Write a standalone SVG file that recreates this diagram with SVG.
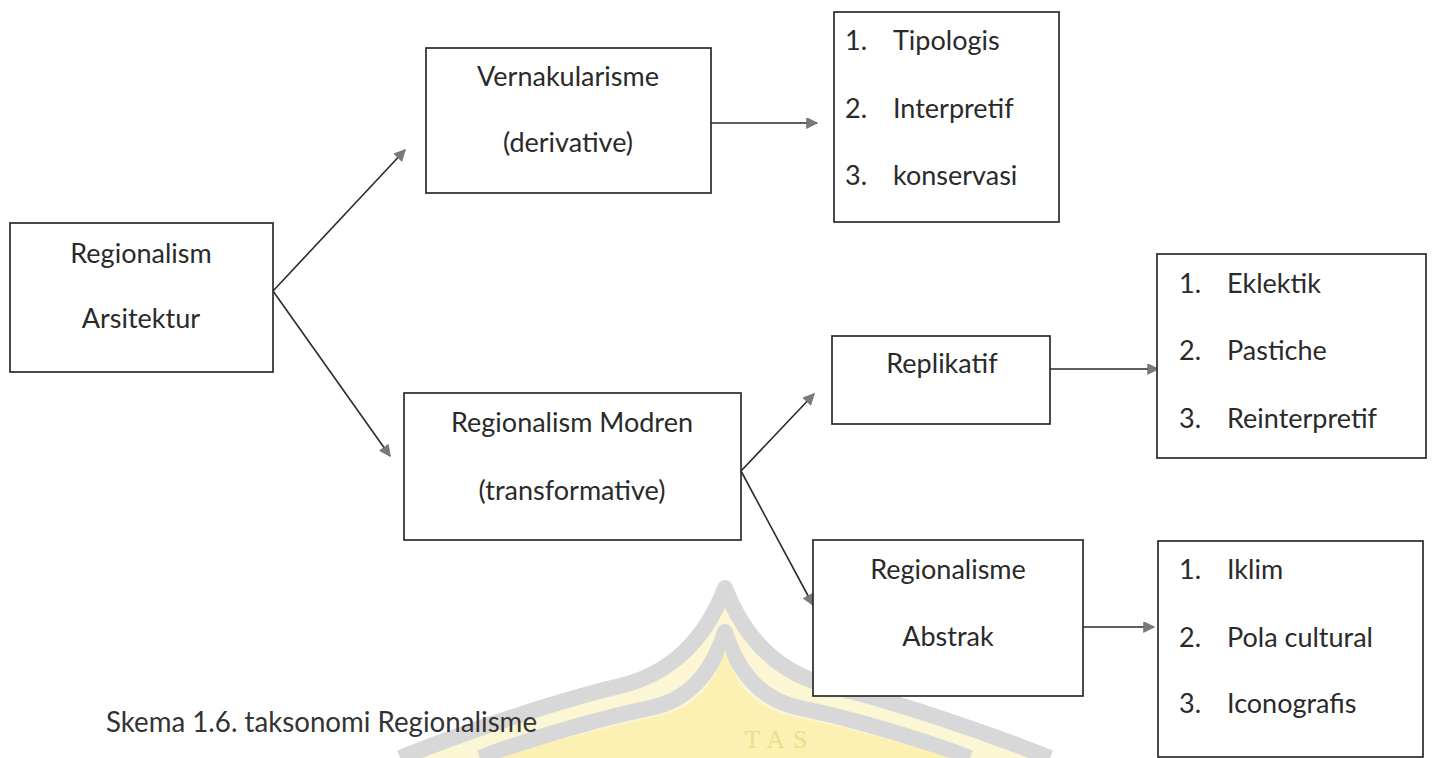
<svg xmlns="http://www.w3.org/2000/svg" width="1433" height="758" viewBox="0 0 1433 758">
<style>
.box{fill:#fff;stroke:#2b2b2b;stroke-width:1.7}
.t{font-family:Lato,"Liberation Sans",sans-serif;font-size:27px;fill:#2a2a2a}
.c{text-anchor:middle}
.cap{font-family:Lato,"Liberation Sans",sans-serif;font-size:28px;fill:#333}
.edge{stroke:#2b2b2b;stroke-width:1.6;fill:none;marker-end:url(#ah)}
.wband{fill:none;stroke:#d8d8d8;stroke-width:16;stroke-linejoin:round}
</style>
<defs>
<marker id="ah" viewBox="0 0 10 10" refX="9.5" refY="5" markerWidth="14" markerHeight="11" markerUnits="userSpaceOnUse" orient="auto">
<path d="M0,0 L10,5 L0,10 z" fill="#7a7a7a" stroke="#666" stroke-width="0.5"/>
</marker>
</defs>
<rect width="1433" height="758" fill="#fff"/>
<g id="watermark">
<path d="M400,758 C470,730 560,700 620,686 C670,674 705,640 725,588 C745,640 780,674 830,686 C890,700 980,730 1050,758 Z" fill="#fcf6d4"/>
<path class="wband" d="M400,758 C470,730 560,700 620,686 C670,674 705,640 725,588 C745,640 780,674 830,686 C890,700 980,730 1050,758"/>
<path class="wband" d="M480,758 C540,735 610,716 650,708 C690,700 712,672 725,632 C738,672 760,700 800,708 C840,716 910,735 970,758"/>
<path d="M500,758 C555,740 620,724 655,717 C695,709 715,684 725,650 C735,684 755,709 795,717 C830,724 895,740 950,758 Z" fill="#fcf0b2"/>
<text x="780" y="748" font-family="Liberation Serif,serif" font-size="26" fill="#eedc8e" text-anchor="middle" letter-spacing="8">TAS</text>
</g>
<g id="connectors">
<line class="edge" x1="273" y1="291" x2="405" y2="150"/>
<line class="edge" x1="273" y1="291" x2="390" y2="456"/>
<line class="edge" x1="711" y1="123" x2="817" y2="123"/>
<line class="edge" x1="741" y1="471" x2="814" y2="394"/>
<line class="edge" x1="741" y1="471" x2="813" y2="605"/>
<line class="edge" x1="1050" y1="369" x2="1158" y2="369"/>
<line class="edge" x1="1083" y1="627" x2="1154" y2="627"/>
</g>
<g id="n-regionalism">
<rect class="box" x="10" y="223" width="263" height="149"/>
<text class="t c" x="141" y="263">Regionalism</text>
<text class="t c" x="141" y="328">Arsitektur</text>
</g>
<g id="n-vernakularisme">
<rect class="box" x="426" y="48" width="285" height="145"/>
<text class="t c" x="568" y="86">Vernakularisme</text>
<text class="t c" x="568" y="152">(derivative)</text>
</g>
<g id="n-list1">
<rect class="box" x="834" y="12" width="225" height="210"/>
<text class="t" x="845" y="50">1.</text><text class="t" x="893" y="50">Tipologis</text>
<text class="t" x="845" y="118">2.</text><text class="t" x="893" y="118">Interpretif</text>
<text class="t" x="845" y="185">3.</text><text class="t" x="893" y="185">konservasi</text>
</g>
<g id="n-modren">
<rect class="box" x="404" y="393" width="337" height="147"/>
<text class="t c" x="572" y="432">Regionalism Modren</text>
<text class="t c" x="572" y="500">(transformative)</text>
</g>
<g id="n-replikatif">
<rect class="box" x="832" y="336" width="218" height="88"/>
<text class="t c" x="942" y="373">Replikatif</text>
</g>
<g id="n-list2">
<rect class="box" x="1157" y="254" width="269" height="204"/>
<text class="t" x="1179" y="293">1.</text><text class="t" x="1227" y="293">Eklektik</text>
<text class="t" x="1179" y="360">2.</text><text class="t" x="1227" y="360">Pastiche</text>
<text class="t" x="1179" y="428">3.</text><text class="t" x="1227" y="428">Reinterpretif</text>
</g>
<g id="n-abstrak">
<rect class="box" x="813" y="540" width="270" height="156"/>
<text class="t c" x="948" y="579">Regionalisme</text>
<text class="t c" x="948" y="646">Abstrak</text>
</g>
<g id="n-list3">
<rect class="box" x="1158" y="541" width="265" height="216"/>
<text class="t" x="1179" y="579">1.</text><text class="t" x="1227" y="579">Iklim</text>
<text class="t" x="1179" y="647">2.</text><text class="t" x="1227" y="647">Pola cultural</text>
<text class="t" x="1179" y="713">3.</text><text class="t" x="1227" y="713">Iconografis</text>
</g>
<text class="cap" x="106" y="732" textLength="431" lengthAdjust="spacingAndGlyphs">Skema 1.6. taksonomi Regionalisme</text>
</svg>
